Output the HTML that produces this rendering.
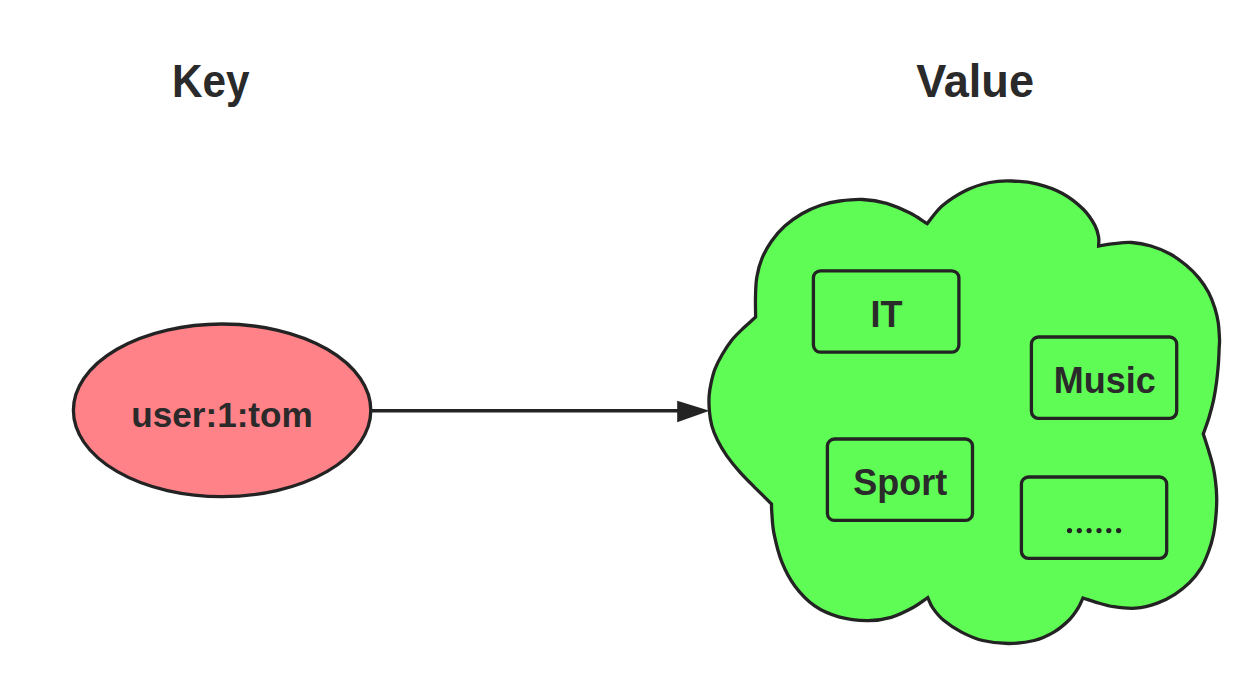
<!DOCTYPE html>
<html><head><meta charset="utf-8"><style>
html,body{margin:0;padding:0;background:#fff;width:1254px;height:686px;overflow:hidden}
svg{display:block}
text{font-family:"Liberation Sans",sans-serif;font-weight:bold;fill:#2a2a2a}
</style></head><body>
<svg width="1254" height="686" viewBox="0 0 1254 686">
<g>
<rect x="0" y="0" width="1254" height="686" fill="#ffffff"/>
<text transform="translate(171.9 96.5) scale(0.92 1)" font-size="46" text-anchor="start" >Key</text>
<text transform="translate(916.2 96.6) scale(0.98 1)" font-size="46" text-anchor="start" >Value</text>
<ellipse cx="222.1" cy="410.3" rx="148.7" ry="86.3" fill="#ff8288" stroke="#232323" stroke-width="3.3"/>
<text transform="translate(222 426.5) scale(0.976 1)" font-size="36" text-anchor="middle">user:1:tom</text>
<line x1="371" y1="410.8" x2="680" y2="410.8" stroke="#232323" stroke-width="3.5"/>
<path d="M 677.2 400.8 L 709.5 410.8 L 677.2 422.2 Z" fill="#232323"/>
<path d="M 755.6 317.0 C 755.6 310.2 755.3 303.1 755.5 296.5 C 755.7 289.9 755.7 283.6 756.8 277.2 C 757.9 270.8 759.6 264.2 762.1 258.2 C 764.6 252.2 767.7 246.6 771.5 241.2 C 775.3 235.8 779.7 230.6 784.8 226.0 C 789.9 221.4 795.9 217.2 801.9 213.7 C 807.9 210.2 814.5 207.3 820.8 205.2 C 827.1 203.1 832.8 201.9 839.8 201.0 C 846.8 200.1 854.7 199.1 862.5 199.5 C 870.3 199.9 878.7 201.1 886.6 203.3 C 894.5 205.6 903.2 209.6 910.0 213.0 C 916.8 216.4 921.5 220.1 927.2 223.6 C 932.2 217.7 935.9 211.3 942.3 205.8 C 948.7 200.3 957.9 194.4 965.8 190.5 C 973.7 186.6 982.0 184.1 989.7 182.5 C 997.4 180.9 1004.0 180.7 1012.0 181.0 C 1020.0 181.3 1029.2 182.0 1037.6 184.1 C 1046.0 186.2 1054.9 189.3 1062.5 193.5 C 1070.1 197.7 1077.9 204.0 1083.3 209.3 C 1088.7 214.7 1092.5 221.0 1095.0 225.6 C 1097.5 230.2 1098.0 233.6 1098.6 237.0 C 1099.2 240.4 1098.6 243.0 1098.6 246.0 C 1103.7 245.2 1108.5 244.2 1114.0 243.6 C 1119.5 243.0 1125.5 242.1 1131.7 242.5 C 1137.9 242.9 1144.6 244.1 1151.0 246.0 C 1157.4 247.9 1164.3 250.8 1170.2 254.0 C 1176.1 257.2 1181.4 261.3 1186.2 265.3 C 1191.0 269.3 1195.3 273.6 1199.0 278.1 C 1202.7 282.6 1205.9 287.4 1208.6 292.5 C 1211.3 297.6 1213.4 303.5 1215.0 308.6 C 1216.6 313.7 1217.5 317.9 1218.3 323.0 C 1219.0 328.1 1219.3 334.9 1219.5 339.0 C 1219.7 343.1 1219.4 343.2 1219.2 347.5 C 1219.0 351.8 1218.8 359.2 1218.3 365.0 C 1217.8 370.8 1217.3 376.7 1216.5 382.5 C 1215.7 388.3 1214.8 394.2 1213.6 400.0 C 1212.3 405.8 1210.7 411.8 1209.0 417.5 C 1207.3 423.2 1205.2 428.5 1203.3 434.0 C 1204.9 438.9 1206.4 443.5 1208.0 448.6 C 1209.6 453.8 1211.5 459.5 1212.7 464.9 C 1214.0 470.3 1214.8 475.8 1215.5 481.2 C 1216.2 486.6 1216.6 492.2 1216.7 497.6 C 1216.8 503.1 1216.6 507.8 1216.1 513.9 C 1215.6 520.0 1214.8 527.9 1213.5 534.3 C 1212.2 540.6 1210.5 546.4 1208.4 552.0 C 1206.3 557.6 1204.2 563.0 1201.1 568.1 C 1197.9 573.2 1193.9 578.3 1189.5 582.7 C 1185.1 587.1 1180.2 590.9 1174.9 594.3 C 1169.6 597.7 1164.0 600.8 1157.4 603.1 C 1150.9 605.4 1142.9 607.6 1135.6 608.2 C 1128.3 608.8 1120.3 607.7 1113.7 606.7 C 1107.1 605.7 1101.3 603.8 1096.2 602.3 C 1091.1 600.8 1087.4 599.4 1083.0 598.0 C 1081.4 601.3 1080.5 604.2 1078.2 607.9 C 1075.9 611.6 1073.1 616.0 1069.1 620.0 C 1065.0 624.0 1059.7 628.7 1053.9 632.1 C 1048.1 635.5 1041.8 638.6 1034.2 640.5 C 1026.6 642.4 1017.1 643.5 1008.5 643.5 C 999.9 643.5 990.5 642.4 982.7 640.5 C 974.9 638.6 968.1 635.5 961.5 632.1 C 954.9 628.7 948.1 624.0 943.3 620.0 C 938.5 616.0 935.3 611.6 932.7 607.9 C 930.1 604.2 929.4 601.0 927.8 597.6 C 922.9 600.9 919.2 604.2 913.1 607.5 C 907.0 610.8 898.9 615.1 891.2 617.3 C 883.5 619.5 875.8 620.7 867.0 620.6 C 858.2 620.5 847.4 619.2 838.7 616.8 C 830.0 614.3 822.0 611.0 814.7 605.9 C 807.4 600.8 800.5 593.5 795.0 586.2 C 789.5 578.9 785.4 571.0 781.9 562.2 C 778.4 553.5 775.7 542.0 774.0 533.7 C 772.3 525.4 772.2 517.5 771.8 512.5 C 771.4 507.6 771.6 506.8 771.5 504.0 C 766.4 498.9 761.5 494.1 756.2 488.8 C 750.9 483.5 744.8 477.6 739.9 472.1 C 735.0 466.7 730.8 461.4 727.0 456.1 C 723.2 450.8 719.9 445.2 717.4 440.1 C 714.9 435.0 713.1 430.4 711.8 425.6 C 710.5 420.8 709.8 416.1 709.4 411.2 C 709.0 406.3 708.8 400.8 709.1 396.2 C 709.4 391.6 710.0 387.9 711.0 383.3 C 712.0 378.8 713.1 373.7 715.0 368.9 C 716.9 364.1 719.4 359.3 722.2 354.5 C 725.0 349.7 728.4 344.4 731.9 340.0 C 735.4 335.6 739.5 331.8 743.5 328.0 C 747.5 324.2 751.6 320.7 755.6 317.0 Z" fill="#5efc55" stroke="#232323" stroke-width="3.3" stroke-linejoin="miter"/>
<rect x="813.4" y="270.9" width="145.5" height="81.2" rx="7" fill="none" stroke="#232323" stroke-width="3.3"/>
<text x="886.5" y="326.6" font-size="36" text-anchor="middle">IT</text>
<rect x="1031.4" y="337" width="145.3" height="81.3" rx="7" fill="none" stroke="#232323" stroke-width="3.3"/>
<text x="1104.7" y="392.9" font-size="36" text-anchor="middle">Music</text>
<rect x="827.4" y="439" width="145.1" height="81.4" rx="7" fill="none" stroke="#232323" stroke-width="3.3"/>
<text x="900.3" y="495" font-size="36" text-anchor="middle">Sport</text>
<rect x="1021.4" y="477" width="145.3" height="81.3" rx="7" fill="none" stroke="#232323" stroke-width="3.3"/>
<g fill="#232323">
<circle cx="1069.5" cy="530.6" r="2.6"/><circle cx="1079.3" cy="530.6" r="2.6"/><circle cx="1089.1" cy="530.6" r="2.6"/><circle cx="1099" cy="530.6" r="2.6"/><circle cx="1108.8" cy="530.6" r="2.6"/><circle cx="1118.6" cy="530.6" r="2.6"/>
</g>
</g>
</svg>
</body></html>
